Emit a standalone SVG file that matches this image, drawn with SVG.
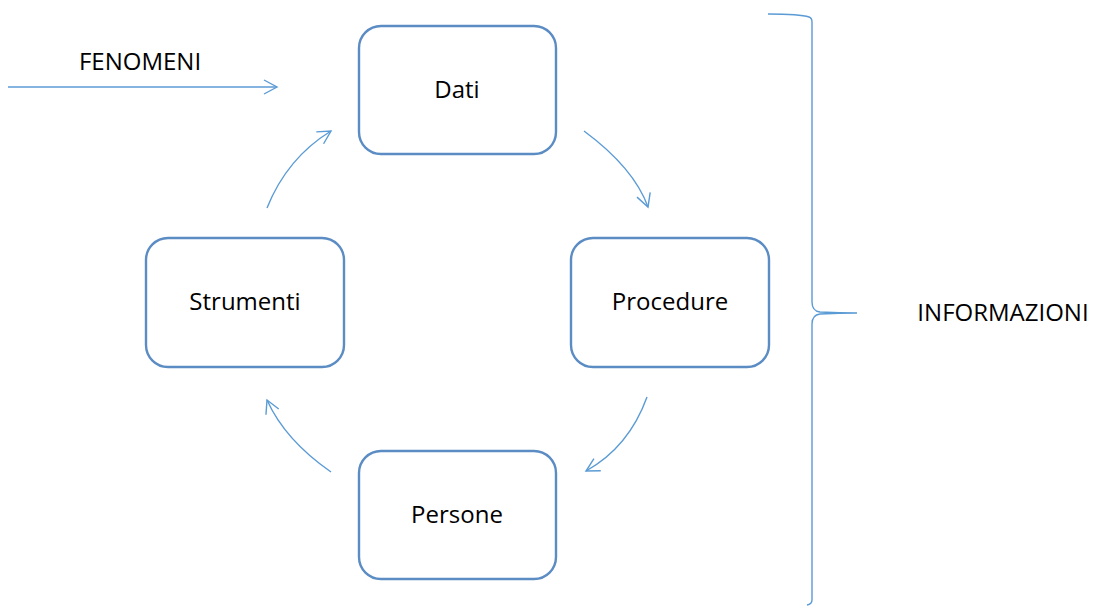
<svg xmlns="http://www.w3.org/2000/svg" width="1093" height="608" viewBox="0 0 1093 608">
<style>
.box{fill:#fff;stroke:#5B8CC4;stroke-width:2.4}
.lbl{font-family:"Open Sans","Liberation Sans",sans-serif;font-size:24px;fill:#000;text-anchor:middle;dominant-baseline:central}
.con{fill:none;stroke:#5B9BD5;stroke-width:1.4}
</style>
<defs>
<marker id="ah" markerWidth="16" markerHeight="16" refX="14" refY="8" orient="auto" markerUnits="userSpaceOnUse">
<path d="M1,1 L14,8 L1,15" fill="none" stroke="#5B9BD5" stroke-width="1.4"/>
</marker>
</defs>
<g id="connectors">
<line class="con" x1="8" y1="87" x2="277" y2="87" marker-end="url(#ah)"/>
<path class="con" d="M584,131 Q634,168 648,207" marker-end="url(#ah)"/>
<path class="con" d="M647,397 Q629,447 586,471" marker-end="url(#ah)"/>
<path class="con" d="M331,472 Q285,440 267,400" marker-end="url(#ah)"/>
<path class="con" d="M267,208 Q287,158 331,131" marker-end="url(#ah)"/>
<path class="con" d="M768,14 Q800,14 809,17 Q812,18 812,22 L812,302 Q812,311 820,312 Q840,313 857,313 Q840,313 820,314 Q812,315 812,324 L812,600 Q812,604 807,605"/>
</g>
<g id="fenomeni"><text class="lbl" x="140" y="60">FENOMENI</text></g>
<g id="dati"><rect class="box" x="359" y="26" width="197" height="128" rx="22"/><text class="lbl" x="457" y="88">Dati</text></g>
<g id="procedure"><rect class="box" x="571" y="238" width="198" height="129" rx="22"/><text class="lbl" x="670" y="300">Procedure</text></g>
<g id="strumenti"><rect class="box" x="146" y="238" width="198" height="129" rx="22"/><text class="lbl" x="245" y="300">Strumenti</text></g>
<g id="persone"><rect class="box" x="359" y="451" width="197" height="128" rx="22"/><text class="lbl" x="457" y="513">Persone</text></g>
<g id="informazioni"><text class="lbl" x="1003" y="311">INFORMAZIONI</text></g>
</svg>
